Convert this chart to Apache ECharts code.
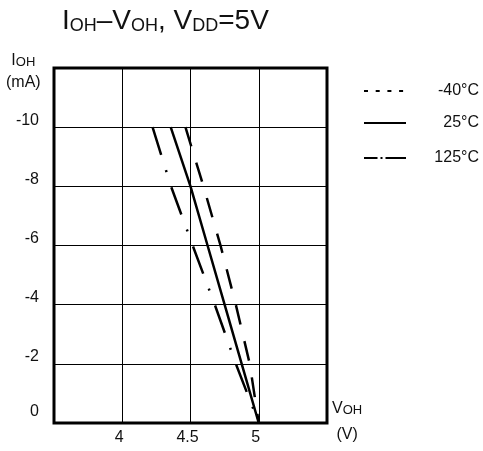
<!DOCTYPE html>
<html><head><meta charset="utf-8">
<script src="https://cdn.jsdelivr.net/npm/echarts@6/dist/echarts.min.js"></script>
<style>html,body{margin:0;padding:0;background:#fff}#c{width:483px;height:451px}</style>
</head><body><div id="c"></div>
<script>
// ---- data ----
const currentMA = [-10, -8, -6, -4, -2, 0];                   // I_OH (mA)
const vohCold   = [4.463, 4.595, 4.72, 4.832, 4.934, 5.0];    // -40°C
const vohRoom   = [4.355, 4.5, 4.625, 4.75, 4.875, 5.0];      // 25°C
const vohHot    = [4.222, 4.357, 4.516, 4.678, 4.832, 5.0];   // 125°C
const seriesNames = ['-40°C', '25°C', '125°C'];
const xTickLabels = [4, 4.5, 5];
const yTickLabels = [0, -2, -4, -6, -8, -10];

const FONT = 'Liberation Sans, Arial, Helvetica, sans-serif';
const INK = '#111';
const pair = vs => vs.map((v, i) => [v, currentMA[i]]);

const chart = echarts.init(document.getElementById('c'), null, {renderer: 'canvas'});

function legendFor(name, top, lineStyle) {
  return {
    data: [{name: name, lineStyle: lineStyle,
            itemStyle: {color: 'transparent', borderColor: 'transparent', borderWidth: 0, opacity: 0}}],
    left: 363, top: top, padding: 0,
    itemWidth: 42, itemHeight: 14,
    selectedMode: false,
    formatter: '{t|{name}}',
    textStyle: {
      color: INK, fontFamily: FONT, fontSize: 16,
      rich: {t: {width: 68, align: 'right', fontSize: 16, fontFamily: FONT, color: INK}}
    }
  };
}

chart.setOption({
  animation: false,
  backgroundColor: '#fff',
  title: {
    text: '{m|I}{s|OH}{m|–V}{s|OH}{m|, V}{s|DD}{m|=5V}',
    left: 62, top: 7, padding: 0,
    textStyle: {
      fontWeight: 'normal',
      rich: {
        m: {fontSize: 28, fontFamily: FONT, fontWeight: 'normal', color: INK, verticalAlign: 'bottom'},
        s: {fontSize: 18, fontFamily: FONT, fontWeight: 'normal', color: INK, verticalAlign: 'bottom'}
      }
    }
  },
  legend: [
    legendFor(seriesNames[0], 83,  {type: [4, 7.7], width: 2, color: '#000'}),
    legendFor(seriesNames[1], 115, {type: 'solid', width: 2, color: '#000'}),
    legendFor(seriesNames[2], 150, {type: [13.5, 3, 2, 3, 30, 0], width: 2, color: '#000'})
  ],
  grid: {
    left: 54, top: 68, right: 156, bottom: 28,
    show: true, borderColor: '#000', borderWidth: 3, backgroundColor: 'transparent'
  },
  xAxis: {
    type: 'value', min: 3.5, max: 5.5, interval: 0.5,
    axisLine: {show: false}, axisTick: {show: false},
    splitLine: {show: true, lineStyle: {color: '#000', width: 1}},
    axisLabel: {
      margin: 7, color: INK, fontFamily: FONT, fontSize: 16, padding: [0, 6, 0, 0],
      formatter: v => xTickLabels.some(t => Math.abs(t - v) < 1e-9) ? String(v) : ''
    }
  },
  yAxis: {
    type: 'value', min: -12, max: 0, interval: 2, inverse: true,
    axisLine: {show: false}, axisTick: {show: false},
    splitLine: {show: true, lineStyle: {color: '#000', width: 1}},
    axisLabel: {
      margin: 15, color: INK, fontFamily: FONT, fontSize: 16,
      formatter: v => yTickLabels.indexOf(v) >= 0 ? (v === 0 ? '{z|0}' : '{n|' + v + '}') : '',
      rich: {
        n: {fontSize: 16, fontFamily: FONT, color: INK, padding: [0, 0, 14, 0]},
        z: {fontSize: 16, fontFamily: FONT, color: INK, padding: [0, 0, 22, 0]}
      }
    }
  },
  graphic: [
    {
      type: 'text', left: 6, top: 53, silent: true,
      style: {
        text: '{m|I}{s|OH}\n{m|(mA)}', align: 'center',
        rich: {
          m: {fontSize: 16, lineHeight: 22, fontFamily: FONT, fill: INK, verticalAlign: 'bottom', align: 'center'},
          s: {fontSize: 13, lineHeight: 22, fontFamily: FONT, fill: INK, verticalAlign: 'bottom'}
        }
      }
    },
    {
      type: 'text', left: 332, top: 401, silent: true,
      style: {
        text: '{m|V}{s|OH}\n{m|(V)}', align: 'center',
        rich: {
          m: {fontSize: 16, lineHeight: 26, fontFamily: FONT, fill: INK, verticalAlign: 'bottom', align: 'center'},
          s: {fontSize: 13, lineHeight: 26, fontFamily: FONT, fill: INK, verticalAlign: 'bottom'}
        }
      }
    }
  ],
  series: [
    {name: seriesNames[0], type: 'line', symbol: 'none', data: pair(vohCold),
     lineStyle: {color: '#000', width: 2.5, type: [20, 17], cap: 'butt'}, itemStyle: {color: '#000'}},
    {name: seriesNames[1], type: 'line', symbol: 'none', data: pair(vohRoom),
     lineStyle: {color: '#000', width: 2.5, type: 'solid'}, itemStyle: {color: '#000'}},
    {name: seriesNames[2], type: 'line', symbol: 'none', data: pair(vohHot),
     lineStyle: {color: '#000', width: 2.5, type: [29, 16, 2, 16], cap: 'butt'}, itemStyle: {color: '#000'}}
  ]
});
</script></body></html>
